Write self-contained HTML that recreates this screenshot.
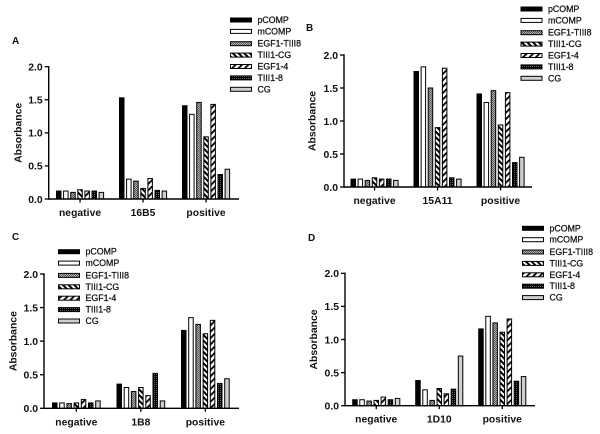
<!DOCTYPE html>
<html lang="en">
<head>
<meta charset="utf-8">
<title>Absorbance bar charts</title>
<style>
html,body{margin:0;padding:0;background:#fff;width:600px;height:434px;overflow:hidden}
svg{display:block}
text{font-family:"Liberation Sans",sans-serif;fill:#111}
.tick,.cat,.ytitle,.letter{font-weight:bold}
.tick{font-size:10.4px}
.cat{font-size:10.3px;letter-spacing:.05px}
.ytitle{font-size:10.4px}
.letter{font-size:10px}
.leg{font-size:8.8px;stroke:#111;stroke-width:.25px}
</style>
</head>
<body>
<svg id="figure" width="600" height="434" viewBox="0 0 600 434" xmlns="http://www.w3.org/2000/svg">
<defs>
<pattern id="p-gray" width="2" height="2" patternUnits="userSpaceOnUse"><rect width="2" height="2" fill="#b0b0b0"/><rect width="1" height="1" fill="#555"/><rect x="1" y="1" width="1" height="1" fill="#555"/></pattern>
<pattern id="p-back" width="4" height="4" patternUnits="userSpaceOnUse" patternTransform="rotate(45)"><rect width="4" height="4" fill="#fff"/><rect width="4" height="2" fill="#000"/></pattern>
<pattern id="p-fwd" width="4.5" height="4.5" patternUnits="userSpaceOnUse" patternTransform="rotate(-45)"><rect width="4.5" height="4.5" fill="#fff"/><rect width="4.5" height="1.8" fill="#000"/></pattern>
<pattern id="p-dark" width="2" height="2" patternUnits="userSpaceOnUse"><rect width="2" height="2" fill="#000"/><rect width="1" height="1" fill="#666"/></pattern>
</defs>
</svg>
<script>
const seriesNames = ["pCOMP","mCOMP","EGF1-TIII8","TIII1-CG","EGF1-4","TIII1-8","CG"];
const tickLabels = ["0.0","0.5","1.0","1.5","2.0"];

const categoriesA = ["negative","16B5","positive"];
const negativeA = [0.12,0.12,0.10,0.14,0.12,0.12,0.10];
const antibodyA = [1.53,0.30,0.27,0.16,0.31,0.13,0.12];
const positiveA = [1.41,1.28,1.46,0.94,1.43,0.37,0.45];

const categoriesB = ["negative","15A11","positive"];
const negativeB = [0.12,0.12,0.10,0.14,0.12,0.12,0.10];
const antibodyB = [1.75,1.82,1.50,0.90,1.80,0.14,0.12];
const positiveB = [1.41,1.28,1.46,0.94,1.43,0.37,0.45];

const categoriesC = ["negative","1B8","positive"];
const negativeC = [0.08,0.08,0.07,0.08,0.13,0.08,0.11];
const antibodyC = [0.36,0.31,0.25,0.31,0.19,0.52,0.11];
const positiveC = [1.16,1.35,1.25,1.11,1.31,0.37,0.44];

const categoriesD = ["negative","1D10","positive"];
const negativeD = [0.09,0.09,0.07,0.08,0.13,0.09,0.11];
const antibodyD = [0.38,0.24,0.08,0.26,0.18,0.25,0.75];
const positiveD = [1.16,1.35,1.25,1.11,1.31,0.37,0.44];

const NS = "http://www.w3.org/2000/svg";
const fig = document.getElementById("figure");
const fills = ["#000","#fff","url(#p-gray)","url(#p-back)","url(#p-fwd)","url(#p-dark)","#cfcfcf"];

function mk(parent, tag, attrs, txt){
  const el = document.createElementNS(NS, tag);
  for (const k in attrs) el.setAttribute(k, attrs[k]);
  if (txt !== undefined) el.textContent = txt;
  parent.appendChild(el);
  return el;
}

function drawPanel(p){
  const g = mk(fig, "g", {});
  
  

  const yScale = v => p.y0 + (p.y2 - p.y0) * v / 2;
  const xScale = (gi, si) => p.start + gi * p.groupStep + si * p.barStep;
  const groupCenter = gi => xScale(gi, 3) + p.barW / 2;

  const letter = mk(g, "text", {x:p.letterX, y:p.letterY, class:"letter"}, p.letter);
  
  

  const title = mk(g, "text", {class:"ytitle", "text-anchor":"middle",
    transform:"translate(" + p.titleX + "," + (p.y0 + p.y2) / 2 + ") rotate(-90)"}, "Absorbance");
  
  

  p.groups.forEach((vals, gi) => {
    vals.forEach((v, si) => {
      const top = yScale(v);
      const bar = mk(g, "rect", {x:xScale(gi, si), y:top, width:p.barW, height:p.y0 - top,
        fill:fills[si], stroke:"#000", "stroke-width":1});
      
      
    });
  });

  const yAxis = mk(g, "line", {x1:p.axisX, x2:p.axisX, y1:p.y2 - .7, y2:p.y0 + .7, stroke:"#000", "stroke-width":1.4});
  
  

  const xAxis = mk(g, "line", {x1:p.axisX, x2:p.axisEnd, y1:p.y0, y2:p.y0, stroke:"#000", "stroke-width":1.4});
  
  

  tickLabels.forEach(t => {
    const y = yScale(parseFloat(t));
    const tick = mk(g, "line", {x1:p.axisX - 4, x2:p.axisX, y1:y, y2:y, stroke:"#000", "stroke-width":1.3});
    
    
    const label = mk(g, "text", {x:p.axisX - 6, y:y + 3.8, "text-anchor":"end", class:"tick"}, t);
    
    
  });

  p.categories.forEach((c, gi) => {
    const cx = groupCenter(gi);
    const tick = mk(g, "line", {x1:cx, x2:cx, y1:p.y0, y2:p.y0 + 3.5, stroke:"#000", "stroke-width":1.3});
    
    
    const label = mk(g, "text", {x:cx, y:p.y0 + 17, "text-anchor":"middle", class:"cat"}, c);
    
    
  });

  const legend = mk(g, "g", {});
  
  
  seriesNames.forEach((name, si) => {
    const ry = p.legY + si * p.legStep + (si >= 2 ? 0.9 : 0);
    const sw = mk(legend, "rect", {x:p.legX, y:ry - 2, width:21, height:4,
      fill:fills[si], stroke:"#000", "stroke-width":1});
    
    
    const tx = mk(legend, "text", {x:p.legX + 27, y:ry + 3, class:"leg"}, name);
    
    
  });
}

drawPanel({letter:"A", letterX:12, letterY:44, titleX:21.5, axisX:48.7, axisEnd:239, y0:199, y2:66.7,
  start:56.5, groupStep:63, barStep:7.1, barW:4.5,
  categories:categoriesA, groups:[negativeA, antibodyA, positiveA],
  legX:230.5, legY:20, legStep:11.4});
drawPanel({letter:"B", letterX:306, letterY:31, titleX:315.5, axisX:344, axisEnd:532, y0:187, y2:55,
  start:351, groupStep:63, barStep:7.1, barW:4.5,
  categories:categoriesB, groups:[negativeB, antibodyB, positiveB],
  legX:521, legY:9, legStep:11.4});
drawPanel({letter:"C", letterX:12, letterY:240, titleX:16.5, axisX:44, axisEnd:239, y0:408.3, y2:274,
  start:52.5, groupStep:64.5, barStep:7.2, barW:4.5,
  categories:categoriesC, groups:[negativeC, antibodyC, positiveC],
  legX:58.5, legY:251.7, legStep:11.4});
drawPanel({letter:"D", letterX:308, letterY:241, titleX:317, axisX:345, axisEnd:535, y0:405.7, y2:273.3,
  start:352.7, groupStep:63, barStep:7.1, barW:4.5,
  categories:categoriesD, groups:[negativeD, antibodyD, positiveD],
  legX:522.5, legY:228.3, legStep:11.4});
</script>
</body>
</html>
